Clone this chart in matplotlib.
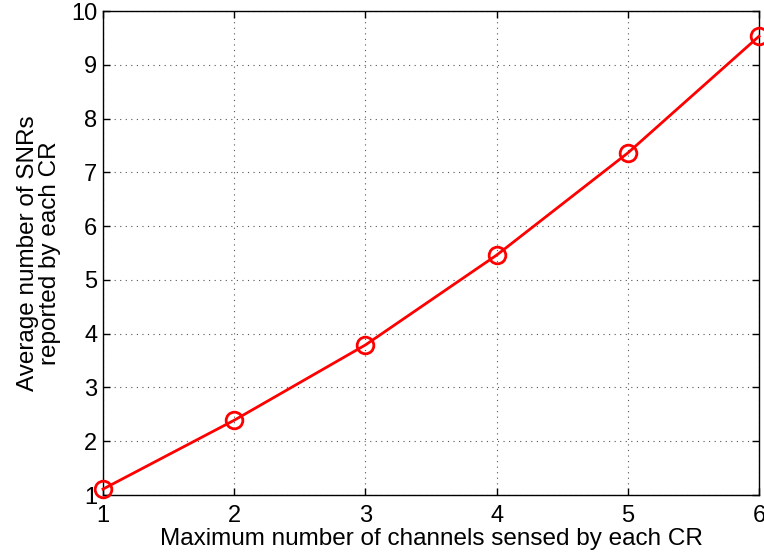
import matplotlib
matplotlib.use("Agg")
import matplotlib.pyplot as plt

plt.rcParams['font.family'] = ['Liberation Sans', 'DejaVu Sans']

max_channels = [1, 2, 3, 4, 5, 6]
avg_snrs = [1.11, 2.39, 3.79, 5.46, 7.36, 9.53]

fig = plt.figure(figsize=(7.64, 5.59), dpi=100)
ax = fig.add_axes([103 / 764, 1 - 495 / 559, (759 - 103) / 764, (495 - 11) / 559])

ax.plot(max_channels, avg_snrs, color='red', linewidth=2.0, marker='o',
        markersize=12, markerfacecolor='none', markeredgecolor='red',
        markeredgewidth=2.0, clip_on=False, zorder=3)

ax.set_xlim(1, 6)
ax.set_ylim(1, 10)
ax.set_xticks(range(1, 7))
ax.set_yticks(range(1, 11))
ax.grid(True, linestyle=(0, (1, 4)), color='#555555', linewidth=0.8)
ax.tick_params(direction='in', top=True, right=True, labelsize=17, length=5,
               width=1.0)
ax.tick_params(axis='x', pad=7)
ax.tick_params(axis='y', pad=4)
for s in ax.spines.values():
    s.set_linewidth(1.0)

ax.set_xlabel('Maximum number of channels sensed by each CR', fontsize=17.5, labelpad=1)
ax.set_ylabel('Average number of SNRs\nreported by each CR', fontsize=17.5,
              labelpad=7, linespacing=1.0)

fig.savefig('out.png', dpi=100)
